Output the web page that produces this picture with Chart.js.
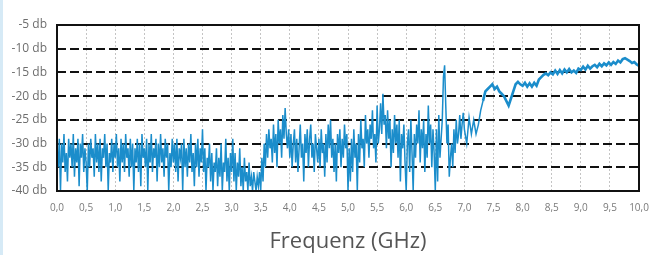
<!DOCTYPE html>
<html>
<head>
<meta charset="utf-8">
<script src="https://cdn.jsdelivr.net/npm/chart.js@4/dist/chart.umd.min.js"></script>
<style>
  html, body { margin: 0; padding: 0; background: #fff; }
  #wrap { position: relative; width: 665px; height: 255px; }
  #edge { position: absolute; left: 0; top: 0; width: 3px; height: 255px; background: #d6eaf6; }
</style>
</head>
<body>
<div id="wrap">
  <div id="edge"></div>
  <canvas id="c" width="665" height="255"></canvas>
</div>
<script>
// Noisy part of the trace: 0.00 .. 6.98 GHz, sampled every 0.02 GHz (rows of 0.5 GHz)
const denseStart = 0, denseStep = 0.02;
const denseDb = [
  -31,-35,-29,-40,-30,-34,-28,-36,-32,-38,-29,-33,-30,-35,-28,-37,-31,-34,-29,-39,-30,-33,-28,-36,-31,
  -34,-40,-30,-35,-29,-33,-31,-37,-28,-34,-30,-36,-29,-38,-31,-33,-28,-35,-30,-40,-32,-34,-29,-36,-30,
  -33,-28,-35,-31,-38,-29,-34,-30,-36,-28,-33,-31,-37,-29,-35,-30,-40,-31,-34,-29,-36,-30,-39,-28,-33,
  -31,-35,-29,-40,-30,-34,-28,-36,-31,-33,-29,-38,-30,-35,-28,-34,-31,-37,-29,-33,-30,-40,-32,-35,-29,
  -34,-30,-36,-29,-38,-31,-33,-30,-40,-29,-35,-31,-37,-30,-34,-28,-36,-32,-39,-30,-35,-29,-37,-31,-34,
  -27,-36,-31,-40,-33,-35,-30,-38,-32,-40,-34,-36,-31,-39,-33,-37,-30,-40,-34,-36,-29,-38,-33,-40,-32,
  -36,-29,-38,-32,-40,-34,-37,-31,-39,-35,-40,-33,-38,-36,-40,-34,-39,-37,-40,-36,-38,-40,-37,-39,-36,
  -40,-33,-38,-30,-35,-28,-33,-27,-31,-29,-34,-26,-32,-28,-35,-25,-30,-27,-33,-24,-29,-22.5,-28,-31,-27,
  -33,-28,-35,-30,-27,-34,-29,-36,-31,-26,-33,-30,-38,-28,-32,-27,-35,-29,-26,-33,-30,-36,-28,-31,-34,
  -29,-35,-27,-32,-30,-37,-28,-34,-26,-31,-25,-33,-29,-36,-30,-38,-28,-32,-27,-35,-29,-33,-26,-31,-28,
  -40,-31,-38,-29,-36,-27,-33,-30,-40,-28,-34,-25,-31,-29,-35,-24,-30,-27,-33,-26,-29,-23,-31,-28,-34,
  -22,-30,-27,-21.5,-28,-19.5,-26,-24,-31,-23,-29,-25,-35,-27,-32,-24,-30,-26,-33,-25,-38,-28,-31,-26,-34,
  -40,-30,-27,-36,-25,-32,-40,-28,-33,-26,-30,-23,-34,-27,-31,-25,-36,-28,-33,-22,-30,-26,-35,-27,-32,
  -40,-27,-38,-24,-33,-29,-25,-16,-13.5,-22,-30,-26,-37,-33,-30,-35,-27,-32,-25,-30,-28,-24,-29,-26,-23.5
];

// Smoother part: 7.00 .. 10.00 GHz, sampled every 0.04 GHz (rows of 1 GHz)
const smoothStart = 7, smoothStep = 0.04;
const smoothDb = [
  -27, -30, -24.5, -28, -25, -28, -26, -23, -21, -19, -18.5, -18, -17.5, -18.5, -18, -19, -19.5, -20, -21, -22, -20.5, -19, -17.5, -17, -17.5,
  -17.8, -17.2, -18, -17.3, -18, -17.2, -17.8, -16.5, -16, -15.5, -15.2, -15.6, -15, -15.4, -14.6, -15.3, -14.5, -15.2, -14.4, -15, -14.3, -15, -14.6, -15.1, -14.2,
  -14.5, -13.8, -14.4, -13.6, -14.2, -13.7, -13.4, -13.9, -13.2, -13.7, -13.1, -13.5, -12.9, -13.4, -12.8, -13.2, -12.5, -12.9, -12.2, -12.0, -12.3, -12.6, -13.0, -12.8, -13.3,
  -13.6
];

// Axis ranges / ticks
const xTicks = [0, 10, 0.5];        // min, max, step (GHz)
const yTicks = [-40, -5, 5];        // min, max, step (dB)
const xTitle = 'Frequenz (GHz)';
const yUnit = ' db';

const points = denseDb.map((v, i) => ({ x: +(denseStart + i * denseStep).toFixed(2), y: v }))
  .concat(smoothDb.map((v, i) => ({ x: +(smoothStart + i * smoothStep).toFixed(2), y: v })));

const frame = {
  id: 'frame',
  afterDraw(chart) {
    const a = chart.chartArea, ctx = chart.ctx;
    ctx.save();
    ctx.strokeStyle = '#111';
    ctx.lineWidth = 2;
    ctx.strokeRect(a.left, a.top, a.right - a.left, a.bottom - a.top);
    ctx.restore();
  }
};

new Chart(document.getElementById('c'), {
  type: 'line',
  data: {
    datasets: [{
      data: points,
      borderColor: '#1b8dcb',
      borderWidth: 1.5,
      pointRadius: 0,
      tension: 0,
      fill: false,
      segment: {
        borderWidth: c => (c.p0.parsed.x >= 7.3 ? 2.6 : 1.5)
      }
    }]
  },
  options: {
    responsive: false,
    animation: false,
    layout: { padding: { left: 0, right: 26, top: 25, bottom: 0 } },
    plugins: { legend: { display: false }, tooltip: { enabled: false } },
    scales: {
      x: {
        type: 'linear',
        min: xTicks[0], max: xTicks[1],
        afterFit(s) { s.height = 64; },
        ticks: {
          stepSize: xTicks[2],
          padding: 11,
          color: '#7a7a7a',
          font: { family: 'Open Sans', size: 10 },
          maxRotation: 0,
          autoSkip: false,
          callback: v => v.toFixed(1).replace('.', ',')
        },
        grid: { color: '#c4c4c4', lineWidth: 1, drawTicks: false },
        border: { display: false, dash: [2, 2] },
        title: {
          display: true,
          text: xTitle,
          color: '#555',
          font: { family: 'Open Sans', size: 22 },
          padding: { top: 0, bottom: 0 }
        }
      },
      y: {
        min: yTicks[0], max: yTicks[1],
        z: 1,
        afterFit(s) { s.width = 57; },
        ticks: {
          stepSize: yTicks[2],
          padding: 10,
          color: '#6e6e6e',
          font: { family: 'Open Sans', size: 12 },
          callback: v => v + yUnit
        },
        grid: { color: '#111', lineWidth: 2, drawTicks: false },
        border: { display: false, dash: [9, 4] }
      }
    }
  },
  plugins: [frame]
});
</script>
</body>
</html>
